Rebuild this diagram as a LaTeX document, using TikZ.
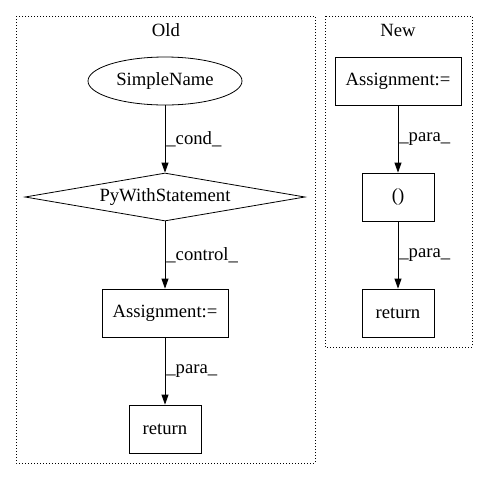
\documentclass[tikz,border=0pt]{standalone}
\usepackage{fontspec}
\setmainfont{Liberation Serif}
\usetikzlibrary{arrows.meta,shapes.geometric}
\begin{document}
\begin{tikzpicture}[x=1pt,y=-1pt,
  every node/.style={font=\fontsize{18.67}{21}\selectfont},
  cluster/.style={draw,dotted,line width=1pt},
  box/.style={draw,line width=0.8pt,rectangle,inner sep=0pt},
  edge/.style={draw,line width=0.8pt,-{Triangle[length=10pt,width=7pt]}},
  elabel/.style={anchor=west,inner sep=0pt}]
\useasboundingbox (0,0) rectangle (488,480);
\draw[cluster] (16,16) rectangle (315,463);
\draw[cluster] (325,16) rectangle (472,347);
\node (oldt) at (166,30) {Old};
\node (newt) at (398,30) {New};
% Old
\node[draw,line width=0.8pt,ellipse,minimum width=154pt,minimum height=48pt,inner sep=0pt] (sn) at (165,81) {SimpleName};
\node[draw,line width=0.8pt,diamond,aspect=5.83,minimum width=280pt,minimum height=48pt,inner sep=0pt] (pw) at (165,197) {PyWithStatement};
\node[box,minimum width=126pt,minimum height=48pt] (oa) at (165,313) {Assignment:=};
\node[box,minimum width=72pt,minimum height=48pt] (or) at (165,429) {return};
\draw[edge] (sn) -- (pw) node[pos=0.5,elabel,xshift=1pt] {\_cond\_};
\draw[edge] (pw.south) -- (oa.north) node[pos=0.5,elabel,xshift=1pt] {\_control\_};
\draw[edge] (oa) -- (or) node[pos=0.5,elabel,xshift=1pt] {\_para\_};
% New
\node[box,minimum width=126pt,minimum height=48pt] (na) at (398,81) {Assignment:=};
\node[box,minimum width=72pt,minimum height=48pt] (np) at (398,197) {()};
\node[box,minimum width=72pt,minimum height=48pt] (nr) at (398,313) {return};
\draw[edge] (na) -- (np) node[pos=0.5,elabel,xshift=1pt] {\_para\_};
\draw[edge] (np) -- (nr) node[pos=0.5,elabel,xshift=1pt] {\_para\_};
\end{tikzpicture}
\end{document}
